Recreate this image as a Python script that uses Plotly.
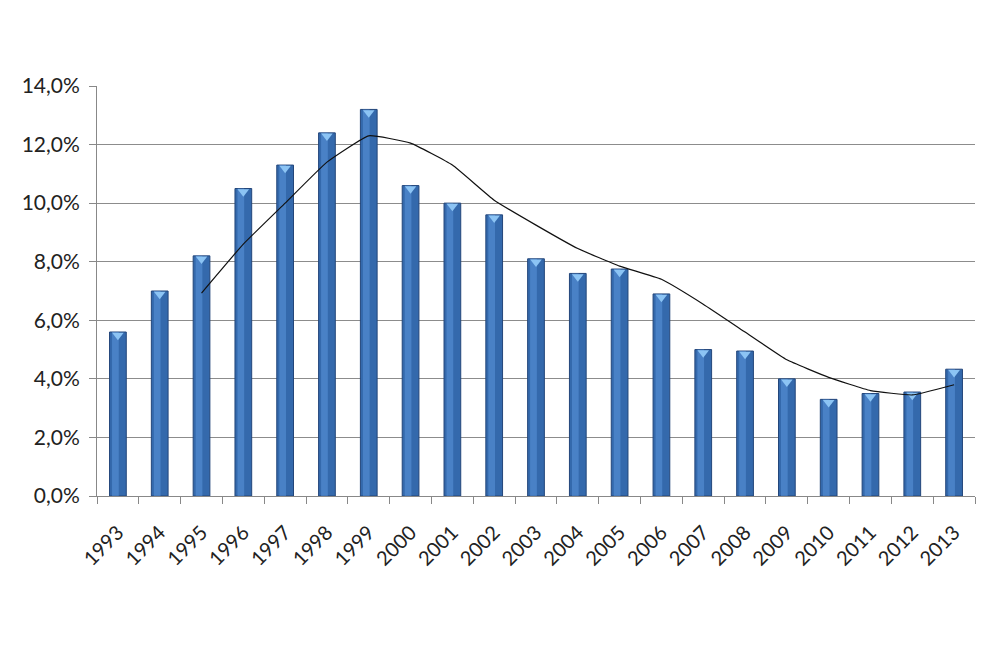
import plotly.graph_objects as go

years = [str(y) for y in range(1993, 2014)]
rates = [5.6, 7.0, 8.2, 10.5, 11.3, 12.4, 13.2, 10.6, 10.0, 9.6, 8.1,
         7.6, 7.75, 6.9, 5.0, 4.95, 4.0, 3.3, 3.5, 3.55, 4.33]
trend_years = [str(y) for y in range(1995, 2014)]
trend = [6.93, 8.6, 10.0, 11.4, 12.3, 12.05, 11.3, 10.1, 9.25, 8.45,
         7.85, 7.4, 6.55, 5.6, 4.65, 4.05, 3.6, 3.45, 3.8]

fig = go.Figure()
fig.add_trace(go.Bar(
    x=years, y=[v / 100 for v in rates], width=0.4,
    marker=dict(color="#3469AC", line=dict(color="#23467A", width=1)),
    showlegend=False,
))
fig.add_trace(go.Bar(
    x=years, y=[v / 100 for v in rates], width=0.16, offset=-0.14,
    marker=dict(color="rgba(100,160,230,0.45)", line=dict(width=0)),
    showlegend=False, hoverinfo="skip",
))
fig.add_trace(go.Scatter(
    x=years, y=[v / 100 - 0.0011 for v in rates], mode="markers",
    marker=dict(symbol="triangle-down", size=10, color="#8CC4F4",
                line=dict(width=0)),
    showlegend=False, hoverinfo="skip",
))
fig.add_trace(go.Scatter(
    x=trend_years, y=[v / 100 for v in trend], mode="lines",
    line=dict(color="#111111", width=1.2, shape="spline", smoothing=0.35),
    showlegend=False,
))

fig.update_layout(
    width=1000, height=667,
    margin=dict(l=89, r=33, t=78, b=179),
    paper_bgcolor="white", plot_bgcolor="white",
    barmode="overlay", separators=",.",
    font=dict(family="Lato, 'Open Sans', sans-serif", size=20, color="#222222"),
    xaxis=dict(
        type="category", tickangle=-45, ticks="outside", tickson="boundaries",
        range=[-0.5, len(years) - 0.5], ticklabelstandoff=16,
        ticklen=7, tickcolor="#888888", showline=True, linecolor="#888888",
        linewidth=1, showgrid=False, tickfont=dict(size=20),
    ),
    yaxis=dict(
        range=[0, 0.14], dtick=0.02, tickformat=".1%", ticks="outside",
        ticklabelstandoff=5,
        ticklen=7, tickcolor="#888888", showline=True, linecolor="#888888",
        gridcolor="#8c8c8c", gridwidth=1, zeroline=False, tickfont=dict(size=21),
    ),
)

fig.write_html("out.html")
